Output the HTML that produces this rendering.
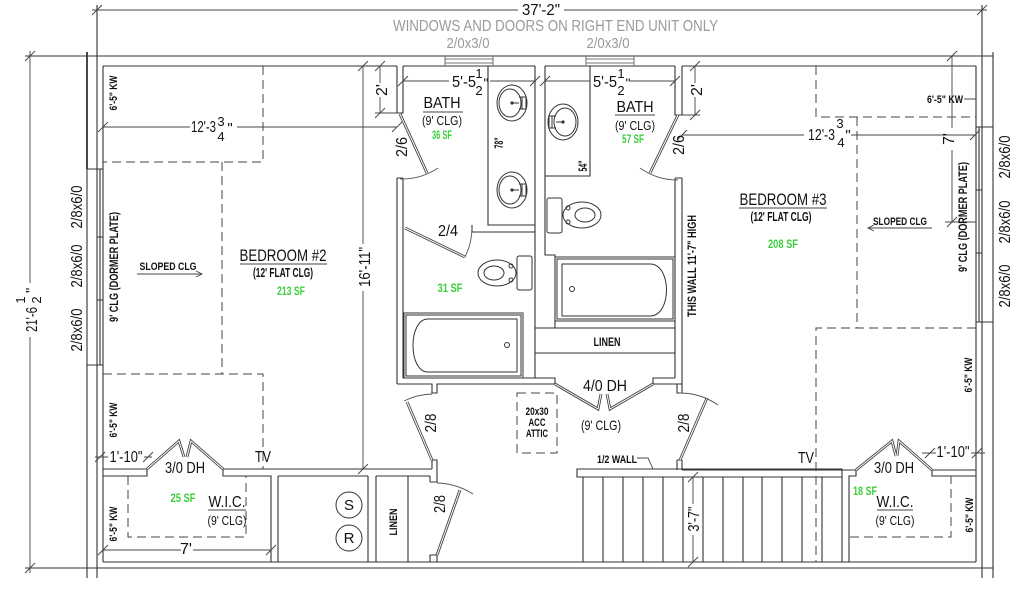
<!DOCTYPE html>
<html><head><meta charset="utf-8"><style>
html,body{margin:0;padding:0;background:#fff;}
svg{display:block;}
</style></head><body>
<svg width="1024" height="589" viewBox="0 0 1024 589" xmlns="http://www.w3.org/2000/svg">
<rect width="1024" height="589" fill="#fff"/>
<g fill="none" stroke="#333" stroke-width="1.1">
<path d="M25 56H993 M97 5V578 M87 169V578 M103 66V562 M982 5V578 M993 52V578 M976 66V562 M25 568H993 M103 562H976"/>
<path d="M87 52V169" stroke-width="1.8"/>
<path d="M103 66H397 M403 66H535 M545 66H675 M682 66H976"/>
<path d="M87 169H103 M87 365H103 M100 169V365 M97 237H103 M97 300H103"/>
<path d="M976 127H993 M976 322H993 M979 127V322 M976 190H982 M976 253H982"/>
<path d="M445 56V66 M493 56V66 M445 59H493 M445 63H493 M586 56V66 M634 56V66 M586 59H634 M586 63H634" stroke="#777"/>
<path d="M397 66V113H403V66 M397 178V384 M397 178H403 M403 178V378"/>
<path d="M488 66V225H535 M535 66V378 M472 225V232H535"/>
<path d="M545 66V255H555V328 M545 176H590V66 M535 328H675 M535 353H675"/>
<path d="M675 66V115H682V66 M675 178H682 M675 178V378 M682 178V393"/>
<path d="M403 378H555V384 M653 384V378H675 M397 384H432V393H437V384H555 M653 384H682"/>
<path d="M432 460H437V482H430 M432 460V469 M437 555H430V562 M437 555V562 M677 384V393H682 M677 460H682 M677 460V470 M682 460V470"/>
<path d="M103 469H147V476H103 M223 469H432 M223 469V476H271V562 M278 476H368 M278 476V562 M368 476V562 M376 476H430 M376 476V562 M408 476V562 M430 476V482"/>
<path d="M682 470H856V476H849V562 M932 470H976 M932 470V476H976"/>
<path d="M577 469H842V477H577Z M583 477V562 M603 477V562 M623 477V562 M643 477V562 M663 477V562 M683 477V562 M703 477V562 M723 477V562 M743 477V562 M762 477V562 M782 477V562 M802 477V562 M822 477V562 M842 477V562"/>
</g>
<g fill="none" stroke="#444" stroke-width="1" stroke-dasharray="9 5">
<path d="M263 66V162H103 M222 162V374 M103 374H263V469"/>
<path d="M816 66V117H976 M857 117V328 M976 328H816V562"/>
<path d="M128 476V537H246V476 M850 537H951V476"/>
<rect x="517" y="393" width="40" height="60"/>
</g>
<g fill="none" stroke="#444" stroke-width="0.9">
<path d="M92 10H518 M564 10H987 M30 51V283 M30 337V573 M103 127H190 M237 127H397 M380 66V83 M380 97V113 M375 113H397 M363 66V244 M363 291V469 M403 81H449 M490 81H535 M545 81H590 M630 81H675 M695 66V83 M695 97V115 M682 115H700 M682 135H804 M851 135H976 M952 56V128 M952 150V222 M945 222H976 M693 477V504 M693 535V562 M95 457H108 M144 457H152 M922 453H936 M971 453H985 M103 550H181 M193 550H271 M964 99H976"/>
<path d="M92 15L102 5 M977 15L987 5 M25 61L35 51 M25 573L35 563 M98 132L108 122 M392 132L402 122 M375 71L385 61 M375 118L385 108 M358 71L368 61 M358 474L368 464 M398 86L408 76 M530 86L540 76 M540 86L550 76 M670 86L680 76 M690 71L700 61 M690 120L700 110 M677 140L687 130 M970 140L980 130 M947 61L957 51 M947 227L957 217 M688 482L698 472 M688 567L698 557 M95 462L105 452 M143 462L153 452 M925 458L935 448 M972 458L982 448 M98 555L108 545 M266 555L276 545"/>
<path d="M137 274H202 M196 271L202 274L196 277 M868 228H932 M874 225L868 228L874 231 M637 458H648L653 469"/>
<path d="M240 264H327 M739 208H827 M423 112H463 M615 115H655 M208 510H246 M877 510H913"/>
</g>
<g fill="none" stroke="#444" stroke-width="2.8" stroke-linejoin="miter">
<polyline points="147,469 179,441 184,457"/><polyline points="223,469 191,441 187,457"/>
<polyline points="856,470 892,441 896,456"/><polyline points="932,470 899,441 897,456"/>
<polyline points="555,384 598,409 601,394"/><polyline points="653,384 610,409 607,394"/>
<path d="M400 114L427 173 M678 115L650 173 M405 228L465 257 M432 460L407 402 M680 460L707 398 M437 555L460 490"/>
</g>
<g fill="none" stroke="#fff" stroke-width="1">
<polyline points="147,469 179,441 184,457"/><polyline points="223,469 191,441 187,457"/>
<polyline points="856,470 892,441 896,456"/><polyline points="932,470 899,441 897,456"/>
<polyline points="555,384 598,409 601,394"/><polyline points="653,384 610,409 607,394"/>
<path d="M400 114L427 173 M678 115L650 173 M405 228L465 257 M432 460L407 402 M680 460L707 398 M437 555L460 490"/>
</g>
<g fill="none" stroke="#555" stroke-width="0.9">
<path d="M400 179A65 65 0 0 0 438 168 M678 180A65 65 0 0 1 640 168 M465 257A67 67 0 0 0 472 228 M432 394A66 66 0 0 0 404 401 M680 393A67 67 0 0 1 718 405 M437 483A71 71 0 0 1 473 494"/>
</g>
<g fill="none" stroke="#333" stroke-width="1">
<ellipse cx="512" cy="103" rx="15" ry="18"/><ellipse cx="510" cy="103" rx="11" ry="14"/>
<path d="M519 97H526V109H519 M522 97V109 M512 103H519"/>
<ellipse cx="512" cy="190" rx="15" ry="18"/><ellipse cx="510" cy="190" rx="11" ry="14"/>
<path d="M519 184H526V196H519 M522 184V196 M512 190H519"/>
<ellipse cx="563" cy="122" rx="15" ry="18"/><ellipse cx="565" cy="122" rx="11" ry="14"/>
<path d="M556 116H549V128H556 M552 116V128 M556 122H563"/>
<rect x="517" y="256" width="15" height="34" rx="2"/>
<ellipse cx="497" cy="273" rx="19" ry="13"/><ellipse cx="494" cy="273" rx="10" ry="7"/>
<circle cx="511" cy="266" r="2"/><circle cx="511" cy="280" r="2"/>
<rect x="547" y="198" width="15" height="35" rx="2"/>
<ellipse cx="582" cy="215" rx="19" ry="13"/><ellipse cx="585" cy="215" rx="10" ry="7"/>
<circle cx="568" cy="208" r="2"/><circle cx="568" cy="222" r="2"/>
<rect x="404" y="313" width="119" height="65"/><rect x="406" y="315" width="115" height="61"/>
<path d="M428 319H517V372H428C408 372 408 319 428 319Z"/><circle cx="507" cy="345" r="2.5"/>
<rect x="555" y="257" width="120" height="64"/><rect x="557" y="259" width="116" height="60"/>
<path d="M562 264H650C672 264 672 316 650 316H562Z"/><circle cx="572" cy="289" r="2.5"/>
<circle cx="349" cy="505" r="13"/><circle cx="349" cy="538" r="13"/>
</g>
<circle cx="512" cy="103" r="1.6" fill="#333"/><circle cx="512" cy="190" r="1.6" fill="#333"/><circle cx="563" cy="122" r="1.6" fill="#333"/>
<g font-family="'Liberation Sans Narrow','Liberation Sans',Arial,sans-serif" fill="#111">
<text x="541" y="15" text-anchor="middle" font-size="16" textLength="38" lengthAdjust="spacingAndGlyphs">37'-2"</text>
<g fill="#9a9a9a">
<text x="393" y="31" font-size="16" textLength="325" lengthAdjust="spacingAndGlyphs">WINDOWS AND DOORS ON RIGHT END UNIT ONLY</text>
<text x="468" y="48" text-anchor="middle" font-size="15" textLength="43" lengthAdjust="spacingAndGlyphs">2/0x3/0</text>
<text x="608" y="48" text-anchor="middle" font-size="15" textLength="43" lengthAdjust="spacingAndGlyphs">2/0x3/0</text>
</g>
<text transform="translate(37,332) rotate(-90)" font-size="16" textLength="25" lengthAdjust="spacingAndGlyphs">21'-6</text>
<text transform="translate(25,300) rotate(-90)" text-anchor="middle" font-size="13">1</text>
<text transform="translate(41,300) rotate(-90)" text-anchor="middle" font-size="13">2</text>
<text transform="translate(36,293) rotate(-90)" font-size="15">"</text>
<text transform="translate(82,207) rotate(-90)" text-anchor="middle" font-size="16" textLength="43" lengthAdjust="spacingAndGlyphs">2/8x6/0</text>
<text transform="translate(82,266) rotate(-90)" text-anchor="middle" font-size="16" textLength="43" lengthAdjust="spacingAndGlyphs">2/8x6/0</text>
<text transform="translate(82,330) rotate(-90)" text-anchor="middle" font-size="16" textLength="43" lengthAdjust="spacingAndGlyphs">2/8x6/0</text>
<text transform="translate(1010,157) rotate(-90)" text-anchor="middle" font-size="16" textLength="43" lengthAdjust="spacingAndGlyphs">2/8x6/0</text>
<text transform="translate(1010,222) rotate(-90)" text-anchor="middle" font-size="16" textLength="43" lengthAdjust="spacingAndGlyphs">2/8x6/0</text>
<text transform="translate(1010,286) rotate(-90)" text-anchor="middle" font-size="16" textLength="43" lengthAdjust="spacingAndGlyphs">2/8x6/0</text>
<g font-weight="bold">
<text transform="translate(117,93) rotate(-90)" text-anchor="middle" font-size="11" textLength="35" lengthAdjust="spacingAndGlyphs">6'-5" KW</text>
<text transform="translate(118,267) rotate(-90)" text-anchor="middle" font-size="12" textLength="110" lengthAdjust="spacingAndGlyphs">9' CLG (DORMER PLATE)</text>
<text x="168" y="270" text-anchor="middle" font-size="11" textLength="57" lengthAdjust="spacingAndGlyphs">SLOPED CLG</text>
<text x="283" y="277" text-anchor="middle" font-size="13" textLength="60" lengthAdjust="spacingAndGlyphs">(12' FLAT CLG)</text>
<text x="291" y="295" text-anchor="middle" font-size="12" fill="#3ccf3c" textLength="28" lengthAdjust="spacingAndGlyphs">213 SF</text>
<text transform="translate(117,420) rotate(-90)" text-anchor="middle" font-size="11" textLength="35" lengthAdjust="spacingAndGlyphs">6'-5" KW</text>
<text x="183" y="502" text-anchor="middle" font-size="12" fill="#3ccf3c" textLength="25" lengthAdjust="spacingAndGlyphs">25 SF</text>
<text transform="translate(117,524) rotate(-90)" text-anchor="middle" font-size="11" textLength="35" lengthAdjust="spacingAndGlyphs">6'-5" KW</text>
<text transform="translate(397,522) rotate(-90)" text-anchor="middle" font-size="11" textLength="27" lengthAdjust="spacingAndGlyphs">LINEN</text>
<text x="442" y="139" text-anchor="middle" font-size="12" fill="#3ccf3c" textLength="20" lengthAdjust="spacingAndGlyphs">36 SF</text>
<text x="633" y="143" text-anchor="middle" font-size="12" fill="#3ccf3c" textLength="22" lengthAdjust="spacingAndGlyphs">57 SF</text>
<text transform="translate(503,143) rotate(-90)" text-anchor="middle" font-size="12" textLength="11" lengthAdjust="spacingAndGlyphs">78"</text>
<text transform="translate(587,166) rotate(-90)" text-anchor="middle" font-size="12" textLength="11" lengthAdjust="spacingAndGlyphs">54"</text>
<text x="450" y="292" text-anchor="middle" font-size="12" fill="#3ccf3c" textLength="25" lengthAdjust="spacingAndGlyphs">31 SF</text>
<text x="607" y="346" text-anchor="middle" font-size="12" textLength="27" lengthAdjust="spacingAndGlyphs">LINEN</text>
<text transform="translate(696,266) rotate(-90)" text-anchor="middle" font-size="12" textLength="102" lengthAdjust="spacingAndGlyphs">THIS WALL 11'-7" HIGH</text>
<text x="537" y="415" text-anchor="middle" font-size="11" textLength="23" lengthAdjust="spacingAndGlyphs">20x30</text>
<text x="537" y="426" text-anchor="middle" font-size="11" textLength="17" lengthAdjust="spacingAndGlyphs">ACC</text>
<text x="537" y="437" text-anchor="middle" font-size="11" textLength="22" lengthAdjust="spacingAndGlyphs">ATTIC</text>
<text x="617" y="463" text-anchor="middle" font-size="11" textLength="40" lengthAdjust="spacingAndGlyphs">1/2 WALL</text>
<text x="945" y="103" text-anchor="middle" font-size="11" textLength="36" lengthAdjust="spacingAndGlyphs">6'-5" KW</text>
<text transform="translate(967,217) rotate(-90)" text-anchor="middle" font-size="12" textLength="110" lengthAdjust="spacingAndGlyphs">9' CLG (DORMER PLATE)</text>
<text x="781" y="221" text-anchor="middle" font-size="13" textLength="61" lengthAdjust="spacingAndGlyphs">(12' FLAT CLG)</text>
<text x="783" y="248" text-anchor="middle" font-size="12" fill="#3ccf3c" textLength="30" lengthAdjust="spacingAndGlyphs">208 SF</text>
<text x="900" y="225" text-anchor="middle" font-size="11" textLength="54" lengthAdjust="spacingAndGlyphs">SLOPED CLG</text>
<text transform="translate(972,375) rotate(-90)" text-anchor="middle" font-size="11" textLength="35" lengthAdjust="spacingAndGlyphs">6'-5" KW</text>
<text x="865" y="495" text-anchor="middle" font-size="12" fill="#3ccf3c" textLength="24" lengthAdjust="spacingAndGlyphs">18 SF</text>
<text transform="translate(973,515) rotate(-90)" text-anchor="middle" font-size="11" textLength="35" lengthAdjust="spacingAndGlyphs">6'-5" KW</text>
</g>
<text x="216" y="132" text-anchor="end" font-size="16" textLength="25" lengthAdjust="spacingAndGlyphs">12'-3</text>
<text x="221" y="126" text-anchor="middle" font-size="13">3</text>
<text x="221" y="141" text-anchor="middle" font-size="13">4</text>
<text x="230" y="133" text-anchor="middle" font-size="15">"</text>
<text transform="translate(387,90) rotate(-90)" text-anchor="middle" font-size="16">2'</text>
<text x="283" y="261" text-anchor="middle" font-size="17" textLength="87" lengthAdjust="spacingAndGlyphs">BEDROOM #2</text>
<text transform="translate(370,267) rotate(-90)" text-anchor="middle" font-size="16" textLength="40" lengthAdjust="spacingAndGlyphs">16'-11"</text>
<text x="126" y="462" text-anchor="middle" font-size="16" textLength="33" lengthAdjust="spacingAndGlyphs">1'-10"</text>
<text x="185" y="473" text-anchor="middle" font-size="16" textLength="40" lengthAdjust="spacingAndGlyphs">3/0 DH</text>
<text x="263" y="462" text-anchor="middle" font-size="16" textLength="16" lengthAdjust="spacingAndGlyphs">TV</text>
<text x="227" y="507" text-anchor="middle" font-size="16" textLength="37" lengthAdjust="spacingAndGlyphs">W.I.C.</text>
<text x="227" y="525" text-anchor="middle" font-size="13" textLength="39" lengthAdjust="spacingAndGlyphs">(9' CLG)</text>
<text x="186" y="554" text-anchor="middle" font-size="16">7'</text>
<text x="349" y="510" text-anchor="middle" font-size="15">S</text>
<text x="349" y="543" text-anchor="middle" font-size="15">R</text>
<text transform="translate(445,504) rotate(-90)" text-anchor="middle" font-size="16" textLength="18" lengthAdjust="spacingAndGlyphs">2/8</text>
<text x="452" y="87" font-size="16" textLength="24" lengthAdjust="spacingAndGlyphs">5'-5</text>
<text x="479" y="78" text-anchor="middle" font-size="13">1</text>
<text x="479" y="95" text-anchor="middle" font-size="13">2</text>
<text x="486" y="88" text-anchor="middle" font-size="14">"</text>
<text x="593" y="87" font-size="16" textLength="24" lengthAdjust="spacingAndGlyphs">5'-5</text>
<text x="621" y="78" text-anchor="middle" font-size="13">1</text>
<text x="621" y="95" text-anchor="middle" font-size="13">2</text>
<text x="628" y="88" text-anchor="middle" font-size="14">"</text>
<text x="442" y="108" text-anchor="middle" font-size="16" textLength="37" lengthAdjust="spacingAndGlyphs">BATH</text>
<text x="442" y="125" text-anchor="middle" font-size="13" textLength="40" lengthAdjust="spacingAndGlyphs">(9' CLG)</text>
<text x="635" y="112" text-anchor="middle" font-size="16" textLength="37" lengthAdjust="spacingAndGlyphs">BATH</text>
<text x="635" y="130" text-anchor="middle" font-size="13" textLength="40" lengthAdjust="spacingAndGlyphs">(9' CLG)</text>
<text transform="translate(407,147) rotate(-90)" text-anchor="middle" font-size="16" textLength="20" lengthAdjust="spacingAndGlyphs">2/6</text>
<text transform="translate(684,145) rotate(-90)" text-anchor="middle" font-size="16" textLength="20" lengthAdjust="spacingAndGlyphs">2/6</text>
<text transform="translate(702,90) rotate(-90)" text-anchor="middle" font-size="16">2'</text>
<text x="448" y="236" text-anchor="middle" font-size="16" textLength="20" lengthAdjust="spacingAndGlyphs">2/4</text>
<text x="605" y="391" text-anchor="middle" font-size="16" textLength="44" lengthAdjust="spacingAndGlyphs">4/0 DH</text>
<text x="601" y="430" text-anchor="middle" font-size="14" textLength="40" lengthAdjust="spacingAndGlyphs">(9' CLG)</text>
<text transform="translate(436,423) rotate(-90)" text-anchor="middle" font-size="16" textLength="19" lengthAdjust="spacingAndGlyphs">2/8</text>
<text transform="translate(689,423) rotate(-90)" text-anchor="middle" font-size="16" textLength="19" lengthAdjust="spacingAndGlyphs">2/8</text>
<text transform="translate(699,519) rotate(-90)" text-anchor="middle" font-size="16" textLength="25" lengthAdjust="spacingAndGlyphs">3'-7"</text>
<text x="835" y="140" text-anchor="end" font-size="16" textLength="27" lengthAdjust="spacingAndGlyphs">12'-3</text>
<text x="840" y="128" text-anchor="middle" font-size="13">3</text>
<text x="841" y="147" text-anchor="middle" font-size="13">4</text>
<text x="848" y="140" text-anchor="middle" font-size="15">"</text>
<text transform="translate(954,139) rotate(-90)" text-anchor="middle" font-size="16">7'</text>
<text x="783" y="205" text-anchor="middle" font-size="17" textLength="87" lengthAdjust="spacingAndGlyphs">BEDROOM #3</text>
<text x="806" y="463" text-anchor="middle" font-size="16" textLength="16" lengthAdjust="spacingAndGlyphs">TV</text>
<text x="894" y="473" text-anchor="middle" font-size="16" textLength="40" lengthAdjust="spacingAndGlyphs">3/0 DH</text>
<text x="953" y="457" text-anchor="middle" font-size="16" textLength="33" lengthAdjust="spacingAndGlyphs">1'-10"</text>
<text x="895" y="507" text-anchor="middle" font-size="16" textLength="37" lengthAdjust="spacingAndGlyphs">W.I.C.</text>
<text x="895" y="525" text-anchor="middle" font-size="13" textLength="39" lengthAdjust="spacingAndGlyphs">(9' CLG)</text>
</g>
</svg>
</body></html>
